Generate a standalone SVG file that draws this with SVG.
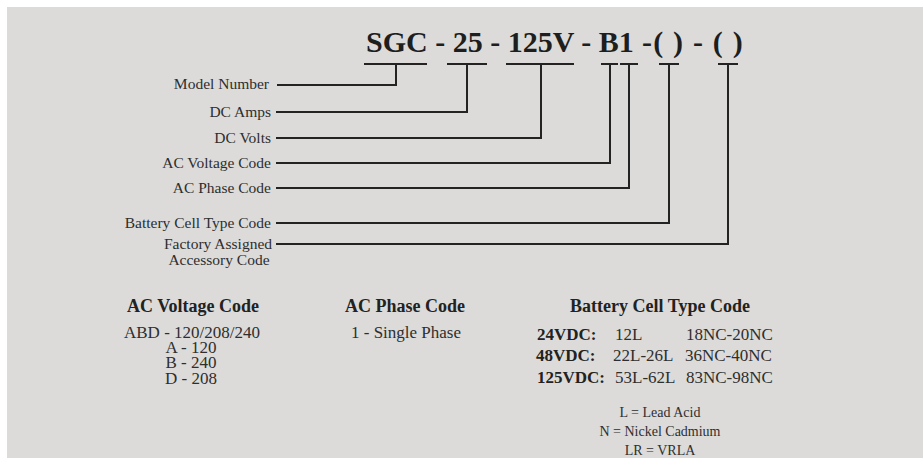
<svg xmlns="http://www.w3.org/2000/svg" width="923" height="458" viewBox="0 0 923 458">
<style>
text{font-family:"Liberation Serif","Times New Roman",serif;fill:#2e2e2e}
.title{font-weight:bold;font-size:30px;fill:#1e1e1e}
.lbl{font-size:15.5px;text-anchor:end}
.ctr{text-anchor:middle}
.h{font-weight:bold;font-size:18px;fill:#222}
.b{font-size:17px}
.bb{font-size:17px;font-weight:bold;fill:#222}
.s{font-size:14px;text-anchor:middle}
.ln{fill:none;stroke:#232323;stroke-width:2}
</style>
<rect x="0" y="0" width="923" height="458" fill="#ffffff"/>
<rect x="7" y="7" width="916" height="451" fill="#dcdbd9"/>

<g id="model-code">
<text class="title" x="366" y="52">SGC - 25 - 125V - B1 <tspan x="642" letter-spacing="1.2">-( ) - ( )</tspan></text>
</g>

<g id="connectors">
<path class="ln" d="M364,64H427M396,64V85H277"/>
<path class="ln" d="M447,64H487M467,64V112H276"/>
<path class="ln" d="M506,64H574M541,64V138H276"/>
<path class="ln" d="M601,64H618M610,64V163H276"/>
<path class="ln" d="M620,64H638M629,64V188H276"/>
<path class="ln" d="M659,64H679M669,64V223H276"/>
<path class="ln" d="M718,64H738M728,64V244H276"/>
</g>

<g id="label-model-number"><text class="lbl" x="269" y="89">Model Number</text></g>
<g id="label-dc-amps"><text class="lbl" x="271" y="117">DC Amps</text></g>
<g id="label-dc-volts"><text class="lbl" x="271" y="143">DC Volts</text></g>
<g id="label-ac-voltage"><text class="lbl" x="271" y="168">AC Voltage Code</text></g>
<g id="label-ac-phase"><text class="lbl" x="271" y="193">AC Phase Code</text></g>
<g id="label-battery"><text class="lbl" x="271" y="228">Battery Cell Type Code</text></g>
<g id="label-factory"><text class="lbl ctr"><tspan x="218" y="249">Factory Assigned</tspan><tspan x="219" y="265">Accessory Code</tspan></text></g>

<g id="legend-ac-voltage">
<text class="h ctr" x="193" y="312">AC Voltage Code</text>
<text class="b ctr"><tspan x="192" y="338">ABD - 120/208/240</tspan><tspan x="191" y="353">A - 120</tspan><tspan x="191" y="368">B - 240</tspan><tspan x="191" y="384">D - 208</tspan></text>
</g>

<g id="legend-ac-phase">
<text class="h ctr" x="405" y="312">AC Phase Code</text>
<text class="b ctr" x="406" y="338">1 - Single Phase</text>
</g>

<g id="legend-battery">
<text class="h ctr" x="660" y="312">Battery Cell Type Code</text>
<text class="bb" x="537" y="340">24VDC:</text><text class="b" x="615" y="340">12L</text><text class="b" x="686" y="340">18NC-20NC</text>
<text class="bb" x="536" y="361">48VDC:</text><text class="b" x="613" y="361">22L-26L</text><text class="b" x="685" y="361">36NC-40NC</text>
<text class="bb" x="537" y="383">125VDC:</text><text class="b" x="615" y="383">53L-62L</text><text class="b" x="686" y="383">83NC-98NC</text>
<text class="s"><tspan x="660" y="417">L = Lead Acid</tspan><tspan x="660" y="436">N = Nickel Cadmium</tspan><tspan x="660" y="455">LR = VRLA</tspan></text>
</g>
</svg>
